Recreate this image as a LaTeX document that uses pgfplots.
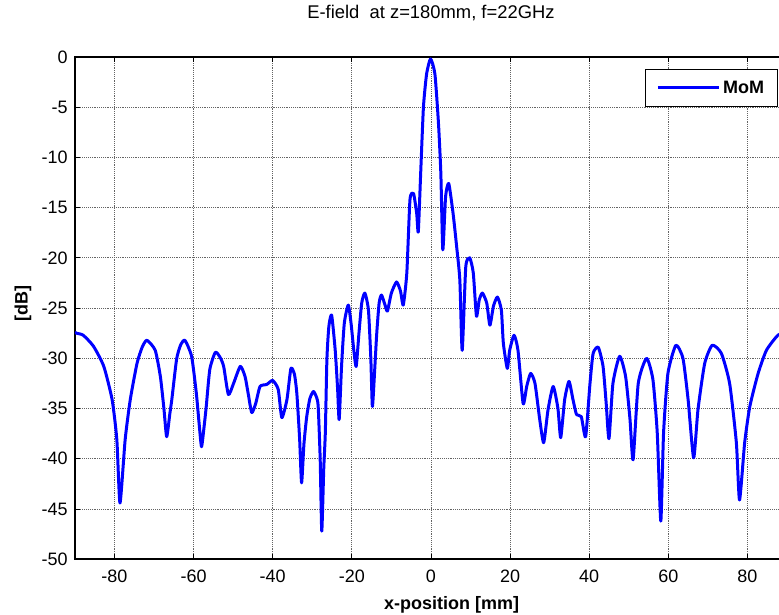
\documentclass[border=0pt]{standalone}
\usepackage{fontspec}
\setmainfont{Liberation Sans}
\usepackage{pgfplots}
\pgfplotsset{compat=1.18}

\begin{document}
\begin{tikzpicture}

\definecolor{gridgray}{RGB}{100,100,100}

\begin{axis}[
  scale only axis,
  width=534.75pt, height=377.25pt,
  xmin=-90, xmax=90,
  ymin=-50, ymax=0,
  xtick={-80,-60,...,80},
  ytick={-50,-45,...,0},
  grid=major,
  major grid style={gridgray, densely dotted, line width=0.6pt},
  axis line style={black, line width=1.6pt},
  tick style={black, line width=0.6pt},
  major tick length=4pt,
  tick align=inside,
  /pgf/number format/assume math mode=true,
  ticklabel style={font=\fontsize{13.5}{16}\selectfont},
  yticklabel style={anchor=east, inner sep=0pt, xshift=-5.25pt},
  xticklabel style={anchor=north, inner sep=0pt, yshift=-7.5pt},
  title={E-field\ \ at z=180mm,\ f=22GHz},
  title style={font=\fontsize{13.8}{16}\selectfont, at={(0.5,1)}, anchor=base, yshift=22.5pt, inner sep=0pt},
  xlabel={x-position [mm]},
  xlabel style={font=\bfseries\fontsize{13.5}{16}\selectfont, at={(0.529,0)}, anchor=base, yshift=-37.5pt, inner sep=0pt},
  ylabel={[dB]},
  ylabel style={font=\bfseries\fontsize{13.5}{16}\selectfont, at={(0,0.51)}, anchor=center, yshift=39pt, inner sep=0pt},
  legend style={at={(1,1)}, anchor=north east, xshift=-6.75pt, yshift=-9pt,
    draw=black, line width=0.8pt, font=\bfseries\fontsize{13.5}{16}\selectfont,
    inner xsep=8pt, inner ysep=6.5pt},
  legend image code/.code={\draw[#1] (0pt,0pt) -- (46pt,0pt);},
]
\addplot [blue, line width=2.25pt, line join=round, smooth, tension=0.35]
table {%
-90 -27.4
-89.6 -27.5
-87.9 -27.7
-85.3 -28.8
-82.7 -30.8
-80.6 -34.1
-79.4 -38.1
-78.6 -44.4
-77.3 -38.1
-76.0 -34.1
-74.3 -30.5
-73.0 -28.9
-71.8 -28.2
-69.7 -29.2
-68.4 -31.8
-67.5 -35.0
-66.8 -37.8
-66.0 -35.5
-65.5 -34.1
-64.3 -30.1
-63.3 -28.7
-62.2 -28.2
-60.5 -29.8
-59.3 -33.5
-58.6 -36.5
-58.0 -38.8
-57.4 -37.0
-56.8 -34.8
-55.9 -31.1
-54.5 -29.4
-53.3 -29.9
-52.4 -30.8
-51.2 -33.6
-49.9 -32.5
-48.2 -30.8
-47.0 -31.8
-46.2 -33.5
-45.3 -35.4
-44.3 -34.5
-43.2 -32.8
-41.5 -32.6
-40.0 -32.2
-38.6 -33.1
-37.7 -35.9
-36.4 -34.1
-35.4 -31.0
-34.5 -31.6
-33.9 -33.5
-33.2 -38.0
-32.7 -42.4
-32.1 -38.5
-31.4 -35.8
-30.6 -34.0
-29.7 -33.3
-28.9 -33.9
-28.5 -34.8
-28.0 -40.0
-27.6 -47.2
-27.1 -41.0
-26.7 -37.4
-26.3 -30.1
-25.8 -26.8
-25.1 -25.7
-24.2 -29.2
-23.6 -33.0
-23.2 -36.1
-22.6 -30.8
-21.9 -26.5
-20.9 -24.7
-20.2 -26.5
-19.5 -29.2
-18.9 -30.8
-18.2 -27.5
-17.5 -24.5
-16.7 -23.5
-15.8 -25.2
-15.2 -30.0
-14.8 -34.8
-14.2 -31.0
-13.7 -27.5
-13.1 -24.5
-12.5 -23.7
-11.6 -24.7
-11.0 -25.3
-10.0 -23.5
-8.7 -22.4
-7.7 -23.3
-7.0 -24.7
-6.1 -21.5
-5.3 -14.2
-4.4 -13.6
-3.6 -15.6
-3.2 -17.4
-2.6 -11.6
-1.9 -5.0
-1.1 -1.7
-0.1 -0.2
1.0 -1.7
1.9 -6.6
2.5 -11.6
3.0 -19.2
3.7 -13.9
4.5 -12.6
5.6 -15.6
6.5 -18.9
7.3 -22.2
7.9 -29.2
8.8 -20.9
9.8 -20.0
10.7 -21.5
11.5 -25.8
12.2 -24.2
13.0 -23.5
14.1 -24.5
14.9 -26.7
15.8 -24.8
16.8 -23.9
17.8 -25.2
18.3 -28.5
19.3 -31.0
19.9 -29.2
21.0 -27.7
22.0 -29.2
23.3 -34.5
24.2 -32.8
25.2 -31.5
26.3 -32.5
27.5 -36.1
28.5 -38.4
29.6 -35.1
30.9 -32.8
32.1 -35.0
32.8 -37.9
33.8 -34.1
34.9 -32.3
35.9 -34.1
36.8 -35.6
38.0 -35.8
39.1 -37.8
40.2 -32.5
41.0 -29.5
42.3 -28.9
43.5 -30.8
44.3 -34.5
45.0 -38.0
46.0 -32.5
47.7 -29.8
49.2 -31.8
50.3 -36.0
51.1 -40.1
52.4 -32.5
54.5 -30.0
56.1 -32.1
57.2 -37.4
58.1 -46.2
58.8 -37.4
59.9 -31.5
61.9 -28.7
63.7 -30.0
65.0 -34.1
66.4 -39.9
67.5 -35.1
69.2 -30.5
71.1 -28.7
73.4 -29.5
75.5 -32.5
77.2 -38.4
78.0 -44.1
79.3 -38.4
80.6 -34.8
82.7 -31.5
84.8 -29.2
87.7 -27.7
90 -27.4
};
\addlegendentry{MoM}
\end{axis}

\pgfresetboundingbox
\path ([xshift=-56.25pt,yshift=-41.25pt]current axis.south west)
  rectangle ([xshift=-6pt,yshift=42.75pt]current axis.north east);

\end{tikzpicture}
\end{document}
